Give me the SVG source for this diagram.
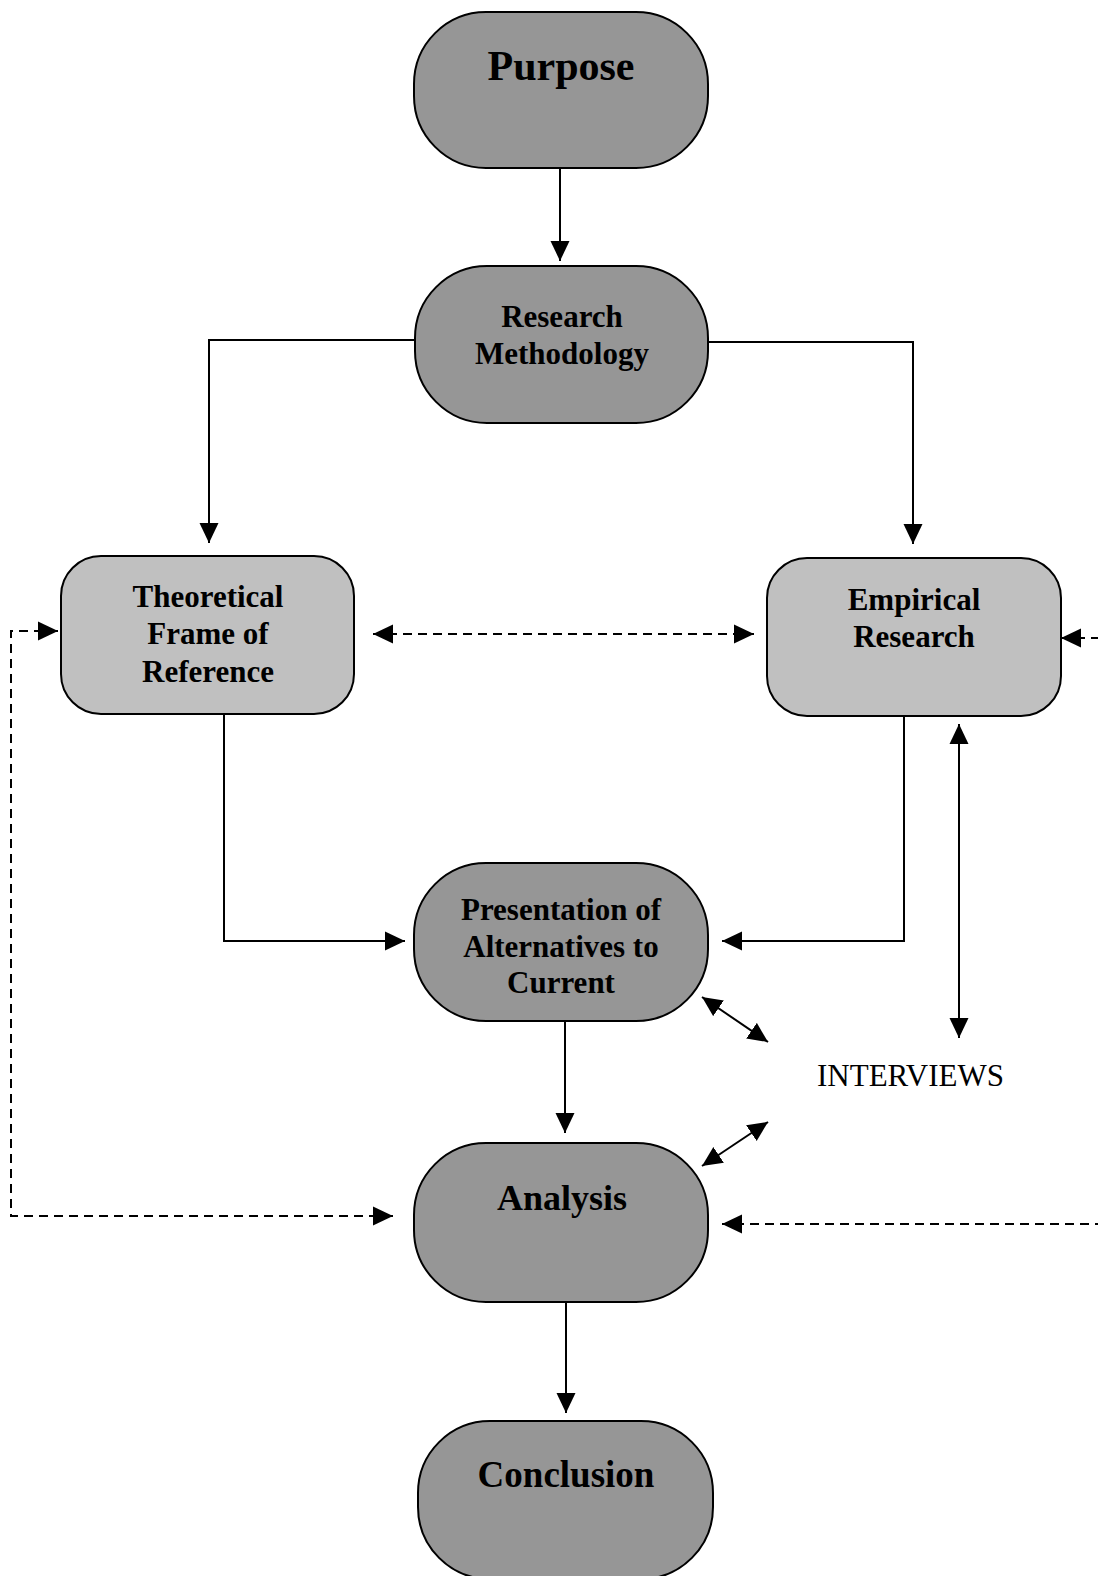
<svg xmlns="http://www.w3.org/2000/svg" width="1098" height="1576" viewBox="0 0 1098 1576">
  <style>
    .dark { fill: #969696; stroke: #000; stroke-width: 2; }
    .light { fill: #c0c0c0; stroke: #000; stroke-width: 2; }
    .lbl { font-family: "Liberation Serif", "Times New Roman", serif; font-weight: bold; fill: #000; text-anchor: middle; }
    .plain { font-family: "Liberation Serif", "Times New Roman", serif; fill: #000; }
    .ln { fill: none; stroke: #000; stroke-width: 2; }
    .dash { fill: none; stroke: #000; stroke-width: 2; stroke-dasharray: 9 6; }
  </style>
  <defs>
    <marker id="arr" markerUnits="userSpaceOnUse" markerWidth="20" markerHeight="20" viewBox="0 0 20 20" refX="20" refY="10" orient="auto-start-reverse">
      <path d="M0,0.5 L20,10 L0,19.5 z" fill="#000"/>
    </marker>
  </defs>
  <rect width="1098" height="1576" fill="#fff"/>

  <g id="connectors">
    <!-- solid flow -->
    <line class="ln" x1="560" y1="168" x2="560" y2="261" marker-end="url(#arr)"/>
    <polyline class="ln" points="415,340 209,340 209,543" marker-end="url(#arr)"/>
    <polyline class="ln" points="708,342 913,342 913,544" marker-end="url(#arr)"/>
    <polyline class="ln" points="224,714 224,941 405,941" marker-end="url(#arr)"/>
    <polyline class="ln" points="904,716 904,941 722,941" marker-end="url(#arr)"/>
    <line class="ln" x1="959" y1="724" x2="959" y2="1038" marker-start="url(#arr)" marker-end="url(#arr)"/>
    <line class="ln" x1="565" y1="1021" x2="565" y2="1133" marker-end="url(#arr)"/>
    <line class="ln" x1="566" y1="1302" x2="566" y2="1413" marker-end="url(#arr)"/>
    <line class="ln" x1="702" y1="997" x2="768" y2="1042" marker-start="url(#arr)" marker-end="url(#arr)"/>
    <line class="ln" x1="702" y1="1166" x2="768" y2="1122" marker-start="url(#arr)" marker-end="url(#arr)"/>
    <!-- dashed feedback -->
    <line class="dash" x1="373" y1="634" x2="754" y2="634" marker-start="url(#arr)" marker-end="url(#arr)"/>
    <polyline class="dash" points="58,631 11,631 11,1216 393,1216" marker-start="url(#arr)" marker-end="url(#arr)"/>
    <polyline class="dash" points="1061,638 1112,638 1112,1224 722,1224" marker-start="url(#arr)" marker-end="url(#arr)"/>
  </g>

  <g id="purpose">
    <rect class="dark" x="414" y="12" width="294" height="156" rx="72" ry="72"/>
    <text class="lbl" x="561" y="80" font-size="42">Purpose</text>
  </g>

  <g id="research-methodology">
    <rect class="dark" x="415" y="266" width="293" height="157" rx="72" ry="72"/>
    <text class="lbl" x="562" y="327" font-size="31">Research</text>
    <text class="lbl" x="562" y="364" font-size="31">Methodology</text>
  </g>

  <g id="theoretical-frame">
    <rect class="light" x="61" y="556" width="293" height="158" rx="40" ry="40"/>
    <text class="lbl" x="208" y="607" font-size="31">Theoretical</text>
    <text class="lbl" x="208" y="644" font-size="31">Frame of</text>
    <text class="lbl" x="208" y="682" font-size="31">Reference</text>
  </g>

  <g id="empirical-research">
    <rect class="light" x="767" y="558" width="294" height="158" rx="40" ry="40"/>
    <text class="lbl" x="914" y="610" font-size="31">Empirical</text>
    <text class="lbl" x="914" y="647" font-size="31">Research</text>
  </g>

  <g id="presentation">
    <rect class="dark" x="414" y="863" width="294" height="158" rx="72" ry="72"/>
    <text class="lbl" x="561" y="920" font-size="31">Presentation of</text>
    <text class="lbl" x="561" y="957" font-size="31">Alternatives to</text>
    <text class="lbl" x="561" y="993" font-size="31">Current</text>
  </g>

  <g id="interviews">
    <text class="plain" x="817" y="1086" font-size="31">INTERVIEWS</text>
  </g>

  <g id="analysis">
    <rect class="dark" x="414" y="1143" width="294" height="159" rx="72" ry="72"/>
    <text class="lbl" x="562" y="1210" font-size="36">Analysis</text>
  </g>

  <g id="conclusion">
    <rect class="dark" x="418" y="1421" width="295" height="158" rx="72" ry="72"/>
    <text class="lbl" x="566" y="1487" font-size="37">Conclusion</text>
  </g>
</svg>
